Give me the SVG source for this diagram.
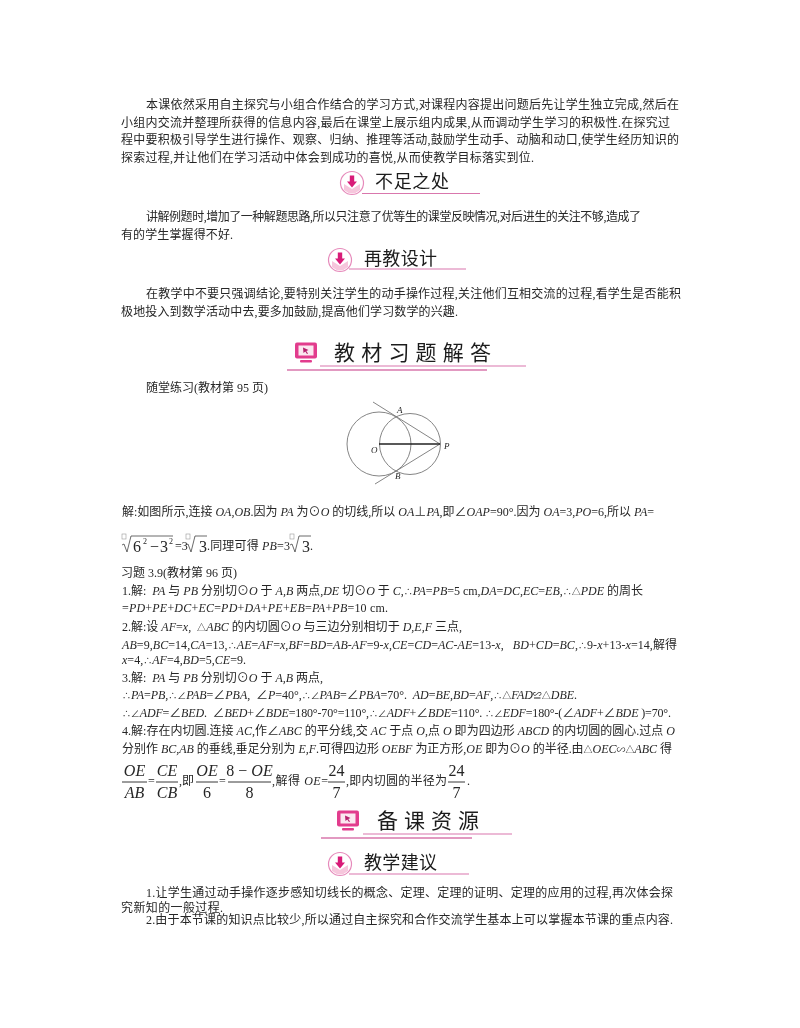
<svg xmlns="http://www.w3.org/2000/svg" width="800" height="1028" viewBox="0 0 800 1028">
<style>
text{font-family:"Liberation Serif","Noto Sans CJK SC",serif;font-size:12px;fill:#262626;white-space:pre}
.i{font-style:italic}
.s{font-size:8px}
.y{font-size:9px}
.n{font-size:16px}
.t{font-family:"Noto Sans CJK SC",sans-serif;font-size:18px;fill:#1c1c1c}
.b{font-family:"Noto Sans CJK SC",sans-serif;font-size:21px;fill:#1c1c1c}
.f{font-size:16px;text-anchor:middle}
.m{font-size:9px;font-style:italic}
.fig{fill:none;stroke:#777;stroke-width:.9}
.fl{fill:none;stroke:#222;stroke-width:.9}
.rad{fill:none;stroke:#444;stroke-width:.8}
.box{fill:none;stroke:#999;stroke-width:.6}
.u{stroke:#d977ad;stroke-width:1.2}
.u2{stroke:#d977ad;stroke-width:1.6}
</style>
<defs>
<g id="dl">
<circle r="11.5" fill="#fff" stroke="#e68abb" stroke-width="1.2"/>
<path d="M-8 1 L0 6 L8 1 V7 Q4 10.5 0 10.5 Q-4 10.5 -8 7Z" fill="#f6c6dc"/>
<path d="M-2.2 -7.5 H2.2 V-1.5 H5 L0 4.5 L-5 -1.5 H-2.2Z" fill="#d81b78"/>
</g>
<g id="mon">
<rect x="-11" y="-9.5" width="22" height="16" rx="2" fill="#e23c8d"/>
<rect x="-7.5" y="-6.5" width="15" height="10" fill="#fbe7f0"/>
<path d="M-3 -4.5 L2.5 -2 L0.3 -1 L2 1.5 L1 2 L-.7 -.5 L-2.5 1Z" fill="#b51f6c"/>
<rect x="-6" y="8" width="12" height="2.5" rx="1" fill="#e23c8d"/>
</g>
</defs>
<g id="page" style="filter:blur(.35px)">
<g id="para1">
<text x="146" y="109" textLength="533">本课依然采用自主探究与小组合作结合的学习方式,对课程内容提出问题后先让学生独立完成,然后在</text>
<text x="121" y="127" textLength="549">小组内交流并整理所获得的信息内容,最后在课堂上展示组内成果,从而调动学生学习的积极性.在探究过</text>
<text x="121" y="144" textLength="558">程中要积极引导学生进行操作、观察、归纳、推理等活动,鼓励学生动手、动脑和动口,使学生经历知识的</text>
<text x="121" y="162" textLength="413">探索过程,并让他们在学习活动中体会到成功的喜悦,从而使教学目标落实到位.</text>
</g>
<g id="head-buzu">
<use href="#dl" x="352" y="183"/>
<line class="u" x1="362" y1="193.500" x2="480" y2="193.500"/>
<text class="t" x="375" y="188" textLength="74">不足之处</text>
</g>
<g id="para2">
<text x="146" y="221" textLength="495">讲解例题时,增加了一种解题思路,所以只注意了优等生的课堂反映情况,对后进生的关注不够,造成了</text>
<text x="121" y="239" textLength="112">有的学生掌握得不好.</text>
</g>
<g id="head-zaijiao">
<use href="#dl" x="340" y="260"/>
<line class="u" x1="349" y1="269" x2="466" y2="269"/>
<text class="t" x="364" y="265" textLength="73">再教设计</text>
</g>
<g id="para3">
<text x="146" y="298" textLength="535">在教学中不要只强调结论,要特别关注学生的动手操作过程,关注他们互相交流的过程,看学生是否能积</text>
<text x="121" y="316" textLength="337">极地投入到数学活动中去,要多加鼓励,提高他们学习数学的兴趣.</text>
</g>
<g id="head-jiaocai">
<use href="#mon" x="306" y="352"/>
<line class="u" x1="320" y1="366" x2="526" y2="366"/>
<line class="u2" x1="287" y1="370" x2="487" y2="370"/>
<text class="b" x="334" y="360" textLength="157">教材习题解答</text>
</g>
<g id="practice-label">
<text x="146" y="392" textLength="122">随堂练习(教材第 95 页)</text>
</g>
<g id="figure">
<circle class="fig" cx="379" cy="444" r="32"/>
<circle class="fig" cx="410" cy="444" r="30.500"/>
<path class="fig" d="M373 402 L440 444 L375 484"/>
<line x1="379" y1="444" x2="440" y2="444" stroke="#222" stroke-width="1.300"/>
<text class="m" x="397" y="413">A</text>
<text class="m" x="395" y="479">B</text>
<text class="m" x="371" y="453">O</text>
<text class="m" x="444" y="449">P</text>
</g>
<g id="solution">
<text x="122" y="516" textLength="532">解:如图所示,连接 <tspan class="i">OA,OB</tspan>.因为 <tspan class="i">PA</tspan> 为⊙<tspan class="i">O</tspan> 的切线,所以 <tspan class="i">OA</tspan>⊥<tspan class="i">PA</tspan>,即∠<tspan class="i">OAP</tspan>=90°.因为 <tspan class="i">OA</tspan>=3,<tspan class="i">PO</tspan>=6,所以 <tspan class="i">PA</tspan>=</text>
<path class="rad" d="M122 545 L124 544 L127 552 L131 536 H173"/>
<path class="rad" d="M186 545 L188 544 L191 552 L195 536 H207"/>
<path class="rad" d="M290 545 L292 544 L295 552 L299 536 H311"/>
<rect class="box" x="122" y="534" width="4" height="5"/>
<rect class="box" x="186" y="534" width="4" height="5"/>
<rect class="box" x="290" y="534" width="4" height="5"/>
<text class="n" x="133" y="552">6</text>
<text class="s" x="143" y="544">2</text>
<text class="n" x="150" y="552">−</text>
<text class="n" x="160" y="552">3</text>
<text class="s" x="169" y="544">2</text>
<text x="175" y="550">=3</text>
<text class="n" x="199" y="552">3</text>
<text x="207" y="550" textLength="83">.同理可得 <tspan class="i">PB</tspan>=3</text>
<text class="n" x="302" y="552">3</text>
<text x="310" y="550">.</text>
<text x="121" y="577" textLength="116">习题 3.9(教材第 96 页)</text>
<text x="122" y="595" textLength="521">1.解:  <tspan class="i">PA</tspan> 与 <tspan class="i">PB</tspan> 分别切⊙<tspan class="i">O</tspan> 于 <tspan class="i">A,B</tspan> 两点,<tspan class="i">DE</tspan> 切⊙<tspan class="i">O</tspan> 于 <tspan class="i">C</tspan>,<tspan class="y">∴</tspan><tspan class="i">PA</tspan>=<tspan class="i">PB</tspan>=5 cm,<tspan class="i">DA</tspan>=<tspan class="i">DC</tspan>,<tspan class="i">EC</tspan>=<tspan class="i">EB</tspan>,<tspan class="y">∴△</tspan><tspan class="i">PDE</tspan> 的周长</text>
<text x="122" y="612" textLength="266">=<tspan class="i">PD</tspan>+<tspan class="i">PE</tspan>+<tspan class="i">DC</tspan>+<tspan class="i">EC</tspan>=<tspan class="i">PD</tspan>+<tspan class="i">DA</tspan>+<tspan class="i">PE</tspan>+<tspan class="i">EB</tspan>=<tspan class="i">PA</tspan>+<tspan class="i">PB</tspan>=10 cm.</text>
<text x="122" y="631" textLength="340">2.解:设 <tspan class="i">AF</tspan>=<tspan class="i">x</tspan>,  <tspan class="y">△</tspan><tspan class="i">ABC</tspan> 的内切圆⊙<tspan class="i">O</tspan> 与三边分别相切于 <tspan class="i">D,E,F</tspan> 三点,</text>
<text x="122" y="649" textLength="555"><tspan class="i">AB</tspan>=9,<tspan class="i">BC</tspan>=14,<tspan class="i">CA</tspan>=13,<tspan class="y">∴</tspan><tspan class="i">AE</tspan>=<tspan class="i">AF</tspan>=<tspan class="i">x</tspan>,<tspan class="i">BF</tspan>=<tspan class="i">BD</tspan>=<tspan class="i">AB</tspan>-<tspan class="i">AF</tspan>=9-<tspan class="i">x</tspan>,<tspan class="i">CE</tspan>=<tspan class="i">CD</tspan>=<tspan class="i">AC</tspan>-<tspan class="i">AE</tspan>=13-<tspan class="i">x</tspan>,   <tspan class="i">BD</tspan>+<tspan class="i">CD</tspan>=<tspan class="i">BC</tspan>,<tspan class="y">∴</tspan>9-<tspan class="i">x</tspan>+13-<tspan class="i">x</tspan>=14,解得</text>
<text x="122" y="664" textLength="124"><tspan class="i">x</tspan>=4,<tspan class="y">∴</tspan><tspan class="i">AF</tspan>=4,<tspan class="i">BD</tspan>=5,<tspan class="i">CE</tspan>=9.</text>
<text x="122" y="682" textLength="201">3.解:  <tspan class="i">PA</tspan> 与 <tspan class="i">PB</tspan> 分别切⊙<tspan class="i">O</tspan> 于 <tspan class="i">A,B</tspan> 两点,</text>
<text x="122" y="699" textLength="455"><tspan class="y">∴</tspan><tspan class="i">PA</tspan>=<tspan class="i">PB</tspan>,<tspan class="y">∴∠</tspan><tspan class="i">PAB</tspan>=∠<tspan class="i">PBA</tspan>,  ∠<tspan class="i">P</tspan>=40°,<tspan class="y">∴∠</tspan><tspan class="i">PAB</tspan>=∠<tspan class="i">PBA</tspan>=70°.  <tspan class="i">AD</tspan>=<tspan class="i">BE</tspan>,<tspan class="i">BD</tspan>=<tspan class="i">AF</tspan>,<tspan class="y">∴△</tspan><tspan class="i">FAD</tspan><tspan class="y">≌△</tspan><tspan class="i">DBE</tspan>.</text>
<text x="122" y="717" textLength="549"><tspan class="y">∴∠</tspan><tspan class="i">ADF</tspan>=∠<tspan class="i">BED</tspan>.  ∠<tspan class="i">BED</tspan>+∠<tspan class="i">BDE</tspan>=180°-70°=110°,<tspan class="y">∴∠</tspan><tspan class="i">ADF</tspan>+∠<tspan class="i">BDE</tspan>=110°. <tspan class="y">∴∠</tspan><tspan class="i">EDF</tspan>=180°-(∠<tspan class="i">ADF</tspan>+∠<tspan class="i">BDE</tspan> )=70°.</text>
<text x="122" y="735" textLength="553">4.解:存在内切圆.连接 <tspan class="i">AC</tspan>,作∠<tspan class="i">ABC</tspan> 的平分线,交 <tspan class="i">AC</tspan> 于点 <tspan class="i">O</tspan>,点 <tspan class="i">O</tspan> 即为四边形 <tspan class="i">ABCD</tspan> 的内切圆的圆心.过点 <tspan class="i">O</tspan></text>
<text x="122" y="753" textLength="550">分别作 <tspan class="i">BC,AB</tspan> 的垂线,垂足分别为 <tspan class="i">E,F</tspan>.可得四边形 <tspan class="i">OEBF</tspan> 为正方形,<tspan class="i">OE</tspan> 即为⊙<tspan class="i">O</tspan> 的半径.由<tspan class="y">△</tspan><tspan class="i">OEC</tspan><tspan class="y">∽△</tspan><tspan class="i">ABC</tspan> 得</text>
</g>
<g id="fractions">
<line class="fl" x1="122" y1="782" x2="147" y2="782"/>
<line class="fl" x1="156" y1="782" x2="178" y2="782"/>
<line class="fl" x1="196" y1="782" x2="218" y2="782"/>
<line class="fl" x1="228" y1="782" x2="271" y2="782"/>
<line class="fl" x1="328" y1="782" x2="345" y2="782"/>
<line class="fl" x1="448" y1="782" x2="465" y2="782"/>
<text class="f i" x="134.500" y="776">OE</text><text class="f i" x="134.500" y="798">AB</text>
<text x="148" y="785">=</text>
<text class="f i" x="167" y="776">CE</text><text class="f i" x="167" y="798">CB</text>
<text x="179" y="785" textLength="15">,即</text>
<text class="f i" x="207" y="776">OE</text><text class="f" x="207" y="798">6</text>
<text x="219" y="785">=</text>
<text class="f" x="249.500" y="776">8 − <tspan class="i">OE</tspan></text><text class="f" x="249.500" y="798">8</text>
<text x="272" y="785" textLength="56">,解得 <tspan class="i">OE</tspan>=</text>
<text class="f" x="336.500" y="776">24</text><text class="f" x="336.500" y="798">7</text>
<text x="346" y="785" textLength="101">,即内切圆的半径为</text>
<text class="f" x="456.500" y="776">24</text><text class="f" x="456.500" y="798">7</text>
<text x="467" y="785">.</text>
</g>
<g id="head-beike">
<use href="#mon" x="348" y="820"/>
<line class="u" x1="363" y1="834" x2="512" y2="834"/>
<line class="u2" x1="321" y1="838" x2="472" y2="838"/>
<text class="b" x="377" y="828" textLength="102">备课资源</text>
</g>
<g id="head-jianyi">
<use href="#dl" x="340" y="864"/>
<line class="u" x1="349" y1="874" x2="469" y2="874"/>
<text class="t" x="364" y="869" textLength="73">教学建议</text>
</g>
<g id="para4">
<text x="146" y="897" textLength="527">1.让学生通过动手操作逐步感知切线长的概念、定理、定理的证明、定理的应用的过程,再次体会探</text>
<text x="121" y="912" textLength="102">究新知的一般过程.</text>
<text x="146" y="924" textLength="527">2.由于本节课的知识点比较少,所以通过自主探究和合作交流学生基本上可以掌握本节课的重点内容.</text>
</g>
</g>
</svg>
